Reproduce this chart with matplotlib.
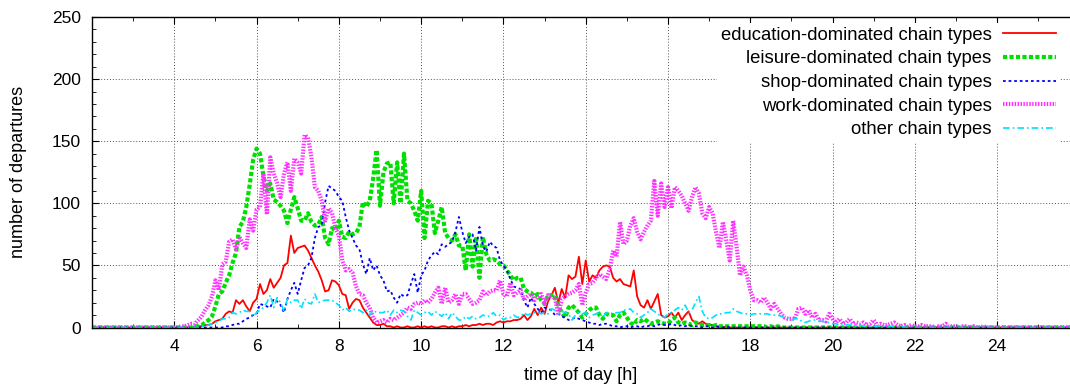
import numpy as np
import matplotlib
matplotlib.use("Agg")
import matplotlib.pyplot as plt
from matplotlib.ticker import MultipleLocator

plt.rcParams["font.family"] = ["Liberation Sans", "DejaVu Sans"]

# departures per 5-minute bin, one row per hour from 4:00 to 23:55
education = [
    [0, 0, 0, 0, 0, 0, 0, 1, 1, 2, 2, 3],
    [5, 6, 7, 11, 13, 12, 22, 19, 22, 17, 13, 20],
    [23, 35, 27, 30, 39, 32, 36, 40, 50, 52, 74, 60],
    [64, 65, 66, 62, 56, 50, 45, 38, 29, 30, 38, 37],
    [34, 27, 26, 15, 20, 23, 22, 16, 12, 8, 4, 2],
    [2, 3, 1, 1, 0, 1, 0, 0, 1, 0, 0, 1],
    [0, 1, 0, 1, 0, 0, 1, 1, 0, 1, 0, 1],
    [1, 2, 1, 2, 2, 3, 2, 3, 3, 2, 4, 5],
    [4, 5, 5, 6, 6, 7, 10, 6, 9, 15, 10, 16],
    [11, 21, 26, 32, 20, 31, 24, 42, 39, 41, 57, 35],
    [54, 37, 42, 40, 46, 49, 50, 49, 40, 37, 39, 35],
    [34, 33, 46, 25, 18, 16, 22, 15, 21, 27, 10, 8],
    [9, 12, 8, 12, 6, 10, 13, 6, 4, 3, 5, 3],
    [2, 2, 1, 1, 0, 1, 0, 0, 0, 0, 0, 0],
    [0, 0, 0, 0, 0, 0, 0, 0, 0, 0, 0, 0],
    [0, 0, 0, 0, 0, 0, 0, 0, 0, 0, 0, 0],
    [0, 0, 0, 0, 0, 0, 0, 0, 0, 0, 0, 0],
    [0, 0, 0, 0, 0, 0, 0, 0, 0, 0, 0, 0],
    [0, 0, 0, 0, 0, 0, 0, 0, 0, 0, 0, 0],
    [0, 0, 0, 0, 0, 0, 0, 0, 0, 0, 0, 0],
]
leisure = [
    [0, 0, 0, 0, 0, 0, 1, 1, 2, 4, 6, 9],
    [17, 27, 29, 36, 42, 52, 60, 81, 85, 97, 115, 135],
    [144, 140, 122, 110, 116, 103, 101, 98, 94, 84, 95, 105],
    [96, 86, 86, 92, 85, 82, 83, 89, 72, 67, 80, 78],
    [86, 73, 72, 77, 75, 76, 81, 101, 97, 102, 120, 143],
    [98, 125, 132, 133, 100, 133, 100, 140, 102, 100, 94, 86],
    [110, 72, 102, 100, 76, 86, 97, 76, 72, 70, 75, 66],
    [66, 46, 75, 49, 73, 40, 73, 59, 54, 55, 54, 51],
    [50, 46, 42, 38, 40, 40, 31, 29, 28, 25, 27, 22],
    [19, 26, 26, 26, 18, 12, 8, 16, 18, 15, 12, 8],
    [11, 14, 16, 16, 10, 7, 11, 10, 10, 5, 10, 12],
    [8, 4, 2, 6, 5, 7, 5, 3, 4, 5, 4, 3],
    [3, 6, 8, 4, 3, 4, 3, 2, 4, 3, 2, 2],
    [2, 1, 2, 1, 1, 1, 1, 1, 1, 1, 1, 1],
    [1, 1, 1, 1, 1, 0, 1, 0, 1, 0, 0, 0],
    [0, 0, 0, 0, 0, 0, 0, 0, 0, 0, 0, 0],
    [0, 0, 0, 0, 0, 0, 0, 0, 0, 0, 0, 0],
    [0, 0, 0, 0, 0, 0, 0, 0, 0, 0, 0, 0],
    [0, 0, 0, 0, 0, 0, 0, 0, 0, 0, 0, 0],
    [0, 0, 0, 0, 0, 0, 0, 0, 0, 0, 0, 0],
]
shop = [
    [0, 0, 0, 0, 0, 0, 0, 0, 0, 0, 0, 0],
    [0, 0, 0, 1, 1, 2, 3, 3, 5, 7, 8, 10],
    [11, 19, 18, 17, 16, 23, 21, 18, 12, 23, 30, 36],
    [27, 38, 48, 50, 56, 72, 81, 82, 101, 114, 112, 110],
    [105, 102, 89, 78, 72, 66, 63, 51, 43, 56, 46, 50],
    [42, 38, 29, 30, 24, 20, 27, 25, 26, 35, 43, 28],
    [42, 46, 54, 58, 61, 59, 67, 65, 67, 69, 77, 89],
    [77, 68, 73, 75, 62, 81, 66, 61, 69, 66, 64, 54],
    [50, 46, 39, 33, 32, 31, 22, 16, 24, 19, 15, 12],
    [16, 15, 14, 10, 11, 9, 8, 6, 7, 8, 7, 6],
    [5, 4, 3, 3, 2, 3, 3, 2, 1, 1, 0, 1],
    [1, 0, 1, 1, 0, 1, 1, 2, 1, 2, 3, 2],
    [2, 3, 2, 1, 2, 1, 2, 1, 1, 1, 0, 1],
    [1, 0, 1, 0, 0, 1, 0, 0, 0, 0, 0, 0],
    [0, 0, 0, 0, 0, 0, 0, 0, 0, 0, 0, 0],
    [0, 0, 0, 0, 0, 0, 0, 0, 0, 0, 0, 0],
    [0, 0, 0, 0, 0, 0, 0, 0, 0, 0, 0, 0],
    [0, 0, 0, 0, 0, 0, 0, 0, 0, 0, 0, 0],
    [0, 0, 0, 0, 0, 0, 0, 0, 0, 0, 0, 0],
    [0, 0, 0, 0, 0, 0, 0, 0, 0, 0, 0, 0],
]
work = [
    [0, 0, 1, 1, 2, 3, 3, 6, 9, 14, 18, 25],
    [38, 30, 51, 53, 69, 71, 63, 73, 68, 64, 87, 78],
    [95, 97, 124, 91, 137, 124, 116, 105, 124, 133, 110, 136],
    [133, 124, 155, 153, 137, 113, 110, 102, 86, 96, 92, 80],
    [74, 54, 46, 47, 44, 33, 27, 26, 20, 16, 8, 4],
    [5, 6, 4, 7, 6, 8, 10, 12, 16, 15, 19, 20],
    [19, 22, 20, 23, 28, 32, 19, 32, 20, 22, 27, 19],
    [27, 27, 23, 19, 20, 22, 29, 26, 29, 30, 30, 38],
    [27, 25, 36, 26, 28, 30, 22, 25, 27, 22, 25, 27],
    [19, 26, 25, 24, 10, 23, 25, 27, 28, 30, 35, 18],
    [28, 35, 36, 40, 43, 41, 39, 47, 62, 57, 85, 67],
    [70, 82, 88, 77, 71, 77, 82, 86, 118, 90, 116, 97],
    [113, 96, 113, 110, 106, 100, 94, 105, 113, 108, 92, 88],
    [97, 92, 77, 64, 85, 70, 54, 86, 65, 42, 49, 42],
    [30, 22, 22, 20, 24, 20, 15, 19, 15, 11, 8, 7],
    [7, 7, 15, 16, 11, 14, 8, 11, 6, 6, 5, 11],
    [7, 4, 7, 3, 4, 7, 3, 4, 3, 4, 2, 3],
    [6, 2, 3, 2, 2, 3, 4, 2, 1, 2, 1, 2],
    [1, 1, 2, 1, 1, 1, 0, 1, 1, 3, 1, 1],
    [1, 0, 1, 1, 0, 1, 0, 0, 1, 0, 0, 0],
]
other = [
    [0, 0, 0, 0, 0, 0, 0, 0, 1, 1, 2, 3],
    [4, 5, 7, 7, 8, 12, 11, 12, 14, 13, 13, 9],
    [12, 14, 16, 20, 26, 16, 24, 20, 13, 23, 20, 22],
    [22, 15, 23, 20, 19, 27, 20, 21, 22, 22, 22, 20],
    [18, 14, 16, 13, 15, 14, 14, 12, 14, 10, 14, 12],
    [12, 12, 14, 10, 14, 12, 14, 13, 9, 6, 14, 12],
    [10, 12, 13, 10, 13, 11, 9, 12, 7, 12, 9, 6],
    [6, 9, 7, 9, 7, 8, 10, 9, 9, 12, 9, 10],
    [6, 8, 8, 10, 8, 9, 12, 10, 11, 12, 12, 11],
    [12, 11, 15, 14, 11, 13, 12, 11, 6, 10, 12, 11],
    [12, 8, 10, 11, 12, 8, 12, 12, 11, 12, 12, 14],
    [14, 15, 12, 11, 8, 10, 12, 15, 13, 11, 9, 8],
    [11, 12, 14, 16, 14, 18, 12, 14, 20, 25, 13, 8],
    [7, 8, 10, 11, 11, 12, 12, 15, 13, 12, 11, 11],
    [10, 11, 11, 11, 11, 11, 10, 10, 10, 9, 8, 8],
    [6, 7, 7, 5, 4, 5, 6, 6, 5, 5, 4, 4],
    [3, 3, 2, 3, 2, 2, 2, 1, 2, 1, 1, 1],
    [1, 1, 1, 1, 0, 1, 1, 0, 1, 0, 0, 1],
    [0, 0, 0, 0, 0, 0, 0, 0, 0, 0, 0, 0],
    [0, 0, 0, 0, 0, 0, 0, 0, 0, 0, 0, 0],
]

labels = [
    "education-dominated chain types",
    "leisure-dominated chain types",
    "shop-dominated chain types",
    "work-dominated chain types",
    "other chain types",
]

# time axis in hours, 5-minute bins from 2:00 to 26:00
t = 2 + np.arange(24 * 12 + 1) / 12.0


def full_day(rows):
    # nothing departs before 4:00 or after 24:00
    vals = np.array(rows, dtype=float).ravel()
    return np.concatenate([np.zeros(24), vals, np.zeros(25)])


styles = [
    dict(color="#ff0000", lw=1.3, ls="-"),
    dict(color="#00e000", lw=3.0, ls=(0, (1.0, 0.55))),
    dict(color="#0000ff", lw=1.3, ls=(0, (1.5, 1.6))),
    dict(color="#ff33ff", lw=3.0, ls=(0, (0.35, 0.35))),
    dict(color="#00e0ff", lw=1.2, ls=(0, (4, 1.8, 1, 1.8))),
]

fig = plt.figure(figsize=(10.7, 3.87), dpi=100)
ax = fig.add_axes([92 / 1070, 1 - 327.5 / 387, 1 - 92 / 1070, 310.5 / 387])

for rows, lab, st in zip([education, leisure, shop, work, other], labels, styles):
    ax.plot(t, full_day(rows), label=lab, **st)

ax.set_xlim(2, 25.77)
ax.set_ylim(0, 250)
ax.set_xticks(np.arange(4, 25, 2))
ax.xaxis.set_minor_locator(MultipleLocator(1))
ax.yaxis.set_major_locator(MultipleLocator(50))
ax.yaxis.set_minor_locator(MultipleLocator(10))

ax.tick_params(which="both", direction="in", top=True, right=False,
               labelsize=12.5, colors="black")
ax.tick_params(which="major", length=5, width=0.8, pad=8)
ax.tick_params(which="minor", length=3, width=0.6)
ax.grid(True, which="major", color="#555555", lw=0.7, ls=(0, (1, 2)))
ax.spines["right"].set_visible(False)
for s in ["left", "bottom", "top"]:
    ax.spines[s].set_linewidth(1.0)

ax.set_xlabel("time of day [h]", fontsize=13, labelpad=10)
ax.set_ylabel("number of departures", fontsize=13, labelpad=18)

leg = ax.legend(loc="upper right", bbox_to_anchor=(1060 / 1070, 1 - 23 / 387),
                bbox_transform=fig.transFigure, markerfirst=False,
                fontsize=13.3, handlelength=2.9, handletextpad=0.6,
                labelspacing=0.36, borderpad=0.2, borderaxespad=0,
                frameon=True, fancybox=False)
leg.get_frame().set_facecolor("white")
leg.get_frame().set_edgecolor("none")
leg.get_frame().set_alpha(1)

fig.savefig("out.png", dpi=100)
